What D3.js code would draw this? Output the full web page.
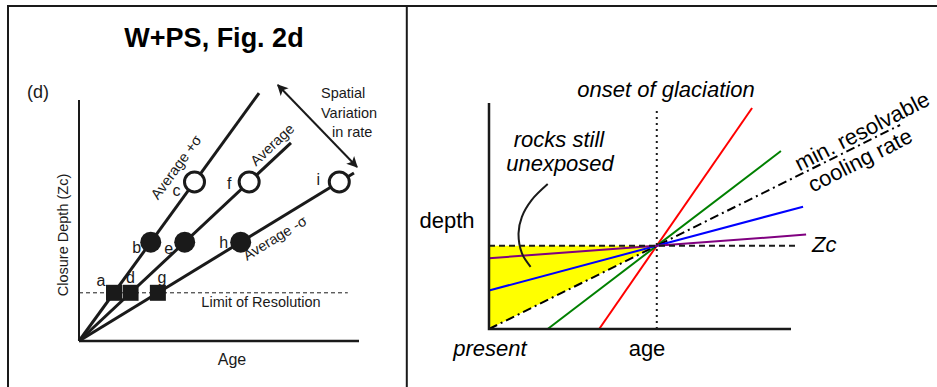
<!DOCTYPE html>
<html>
<head>
<meta charset="utf-8">
<script src="https://cdn.jsdelivr.net/npm/d3@7"></script>
<style>
  html, body { margin: 0; padding: 0; background: #fff; }
  svg { display: block; }
</style>
</head>
<body>
<svg id="chart" width="937" height="387"></svg>
<script>
/* two panels: W+PS Fig. 2d (left) and glaciation cooling sketch (right) */

// ---- left panel data (age, closure depth in arbitrary units 0..100)
var leftLineNames = ['Average +σ', 'Average', 'Average -σ'];
var leftRates = [1.6, 1.086, 0.71];          // depth per unit age
var leftLineEnds = [64.3, 75.7, 98.2];       // age where each line stops
var pointLabels = ['a', 'b', 'c', 'd', 'e', 'f', 'g', 'h', 'i'];
var pointLine = [0, 0, 0, 1, 1, 1, 2, 2, 2];
var pointDepth = [20, 41, 66, 20, 41, 66, 20, 41, 66];
var pointKind = ['square', 'filled', 'open', 'square', 'filled', 'open', 'square', 'filled', 'open'];
var resolutionDepth = 20;

// ---- right panel data (age 0..9, depth 0..11)
var rateNames = ['fast', 'moderate', 'min. resolvable', 'slow', 'slowest'];
var rateSlopes = [2.33, 1.23, 0.8, 0.43, 0.12];
var rateEndAge = [7.84, 8.70, 12.25, 9.36, 9.45];
var onsetAge = 5;
var zcDepth = 4;

var F = '"Liberation Sans", Arial, Helvetica, sans-serif';
var svg = d3.select('#chart');
var INK = '#1a1a1a';

// frame
svg.append('line').attr('x1', 7).attr('y1', 6).attr('x2', 937).attr('y2', 6).attr('stroke', INK).attr('stroke-width', 2.2);
svg.append('line').attr('x1', 8).attr('y1', 5).attr('x2', 8).attr('y2', 387).attr('stroke', INK).attr('stroke-width', 2);
svg.append('line').attr('x1', 406.8).attr('y1', 5).attr('x2', 406.8).attr('y2', 387).attr('stroke', INK).attr('stroke-width', 2);

var defs = svg.append('defs');
defs.append('marker').attr('id', 'ah').attr('viewBox', '0 0 10 10').attr('refX', 9).attr('refY', 5)
  .attr('markerWidth', 13).attr('markerHeight', 11).attr('markerUnits', 'userSpaceOnUse').attr('orient', 'auto-start-reverse')
  .append('path').attr('d', 'M0,0L10,5L0,10L2.5,5Z').attr('fill', INK);

/* ================= left panel ================= */
var gL = svg.append('g');
var xL = d3.scaleLinear().domain([0, 100]).range([79, 359]);
var yL = d3.scaleLinear().domain([0, 100]).range([341, 100]);

gL.append('text').attr('x', 214).attr('y', 47).attr('text-anchor', 'middle').attr('font-family', F)
  .attr('font-weight', 'bold').attr('font-size', 27).attr('fill', '#000').text('W+PS, Fig. 2d');
gL.append('text').attr('x', 27).attr('y', 98).attr('font-family', F).attr('font-size', 18).attr('fill', INK).text('(d)');

// limit of resolution
gL.append('line').attr('x1', xL(0)).attr('x2', xL(96)).attr('y1', yL(resolutionDepth)).attr('y2', yL(resolutionDepth))
  .attr('stroke', INK).attr('stroke-width', 1).attr('stroke-dasharray', '4,3');
gL.append('text').attr('x', 261).attr('y', 307).attr('text-anchor', 'middle').attr('font-family', F)
  .attr('font-size', 14.5).attr('fill', INK).text('Limit of Resolution');

// axes
gL.append('line').attr('x1', xL(0)).attr('x2', xL(0)).attr('y1', yL(0)).attr('y2', yL(100)).attr('stroke', INK).attr('stroke-width', 2);
gL.append('line').attr('x1', xL(0)).attr('x2', xL(100)).attr('y1', yL(0)).attr('y2', yL(0)).attr('stroke', INK).attr('stroke-width', 2.5);
gL.append('text').attr('x', 232).attr('y', 364.5).attr('text-anchor', 'middle').attr('font-family', F)
  .attr('font-size', 16).attr('fill', INK).text('Age');
gL.append('text').attr('transform', 'translate(67.5,235) rotate(-90)').attr('text-anchor', 'middle').attr('font-family', F)
  .attr('font-size', 14.5).attr('fill', INK).text('Closure Depth (Zc)');

// rate lines
var lineL = d3.line().x(function (d) { return xL(d[0]); }).y(function (d) { return yL(d[1]); });
leftRates.forEach(function (r, i) {
  gL.append('path').attr('d', lineL([[0, 0], [leftLineEnds[i], leftLineEnds[i] * r]]))
    .attr('stroke', INK).attr('stroke-width', 3).attr('fill', 'none');
});

// line labels: position along line (age) and perpendicular offset in px
var lblAge = [41.5, 71.8, 67.3], lblOff = [23.6, 11.5, -14.2];
leftRates.forEach(function (r, i) {
  var dx = xL(1) - xL(0), dy = yL(r) - yL(0);
  var len = Math.sqrt(dx * dx + dy * dy), tx = dx / len, ty = dy / len;
  var nx = ty, ny = -tx;  // left-hand normal (points up-left)
  var px = xL(lblAge[i]) + nx * lblOff[i], py = yL(lblAge[i] * r) + ny * lblOff[i];
  var ang = Math.atan2(dy, dx) * 180 / Math.PI;
  gL.append('text').attr('transform', 'translate(' + px + ',' + py + ') rotate(' + ang + ')')
    .attr('text-anchor', 'middle').attr('dy', '0.35em').attr('font-family', F).attr('font-size', 14.5)
    .attr('fill', INK).text(leftLineNames[i]);
});

// points
var ptOffX = [-13, -14, -18, 0, -16, -20, 4, -17, -21];
var ptOffY = [-12, 5, 8, -15, 6, 1, -15, 0, -3];
pointLabels.forEach(function (lab, i) {
  var d = pointDepth[i], a = d / leftRates[pointLine[i]];
  var cx = xL(a), cy = yL(d);
  if (pointKind[i] === 'square') {
    gL.append('rect').attr('x', cx - 8).attr('y', cy - 8).attr('width', 16).attr('height', 16).attr('fill', INK);
  } else if (pointKind[i] === 'filled') {
    gL.append('circle').attr('cx', cx).attr('cy', cy).attr('r', 10.5).attr('fill', INK);
  } else {
    gL.append('circle').attr('cx', cx).attr('cy', cy).attr('r', 10).attr('fill', '#fff').attr('stroke', INK).attr('stroke-width', 3);
  }
  gL.append('text').attr('x', cx + ptOffX[i]).attr('y', cy + ptOffY[i]).attr('dy', '0.35em').attr('text-anchor', 'middle')
    .attr('font-family', F).attr('font-size', 16).attr('fill', INK).text(lab);
});

// spatial variation arrow
gL.append('path').attr('d', lineL([[71, 106.2], [99.3, 72.2]])).attr('stroke', INK).attr('stroke-width', 2)
  .attr('fill', 'none').attr('marker-start', 'url(#ah)').attr('marker-end', 'url(#ah)');
[['Spatial', 321, 97.5], ['Variation', 321, 118], ['in rate', 332, 136.5]].forEach(function (t) {
  gL.append('text').attr('x', t[1]).attr('y', t[2]).attr('font-family', F).attr('font-size', 14.5).attr('fill', INK).text(t[0]);
});

/* ================= right panel ================= */
var gR = svg.append('g');
var xR = d3.scaleLinear().domain([0, 9]).range([489, 791]);
var yR = d3.scaleLinear().domain([0, 11]).range([329, 100]);
var lineR = d3.line().x(function (d) { return xR(d[0]); }).y(function (d) { return yR(d[1]); });
var rateColors = ['#ff0000', '#008000', '#000000', '#0000ff', '#800080'];

// region of rocks still unexposed
gR.append('path').attr('d', lineR([[0, zcDepth], [onsetAge, zcDepth], [0, 0]]) + 'Z').attr('fill', '#ffff00');

// cooling paths through (onset, Zc)
rateSlopes.forEach(function (s, i) {
  var a0 = Math.max(0, onsetAge - zcDepth / s);
  var pts = [[a0, zcDepth + (a0 - onsetAge) * s], [rateEndAge[i], zcDepth + (rateEndAge[i] - onsetAge) * s]];
  var p = gR.append('path').attr('d', lineR(pts)).attr('fill', 'none').attr('stroke', rateColors[i]).attr('stroke-width', 2);
  if (rateNames[i] === 'min. resolvable') p.attr('stroke-dasharray', '9,4,2,4');
});

// Zc dashed line
gR.append('path').attr('d', lineR([[0, zcDepth], [9.18, zcDepth]])).attr('stroke', INK).attr('stroke-width', 2)
  .attr('stroke-dasharray', '6,4').attr('fill', 'none');
// onset dotted line
gR.append('path').attr('d', lineR([[onsetAge, 0], [onsetAge, 10.66]])).attr('stroke', INK).attr('stroke-width', 2)
  .attr('stroke-dasharray', '2,4').attr('fill', 'none');

// axes
gR.append('path').attr('d', lineR([[0, 10.86], [0, 0], [9, 0]])).attr('stroke', INK).attr('stroke-width', 2.5).attr('fill', 'none');

// curved pointer
var curve = d3.line().x(function (d) { return xR(d[0]); }).y(function (d) { return yR(d[1]); }).curve(d3.curveCatmullRom);
gR.append('path').attr('d', curve([[1.75, 6.96], [1.27, 6.19], [0.98, 5.39], [0.88, 4.60], [0.98, 3.64], [1.24, 2.99]]))
  .attr('stroke', INK).attr('stroke-width', 2).attr('fill', 'none');

function rtext(str, x, y, opts) {
  var t = gR.append('text').attr('x', x).attr('y', y).attr('font-family', F).attr('font-size', 22).attr('fill', '#000')
    .attr('text-anchor', opts.anchor || 'middle').text(str);
  if (opts.italic) t.attr('font-style', 'italic');
  if (opts.rotate) t.attr('transform', 'rotate(' + opts.rotate + ',' + x + ',' + y + ')').attr('dy', '0.35em');
  return t;
}
rtext('onset of glaciation', 666, 97, { italic: true });
rtext('rocks still', 559, 147, { italic: true });
rtext('unexposed', 560, 171, { italic: true });
rtext('depth', 447, 228, {});
rtext('Zc', 812, 252, { italic: true, anchor: 'start' });
rtext('present', 490, 356, { italic: true });
rtext('age', 647, 356, {});
rtext('min. resolvable', 862, 131, { rotate: -27 });
rtext('cooling rate', 860, 160, { rotate: -27 });
</script>
</body>
</html>
